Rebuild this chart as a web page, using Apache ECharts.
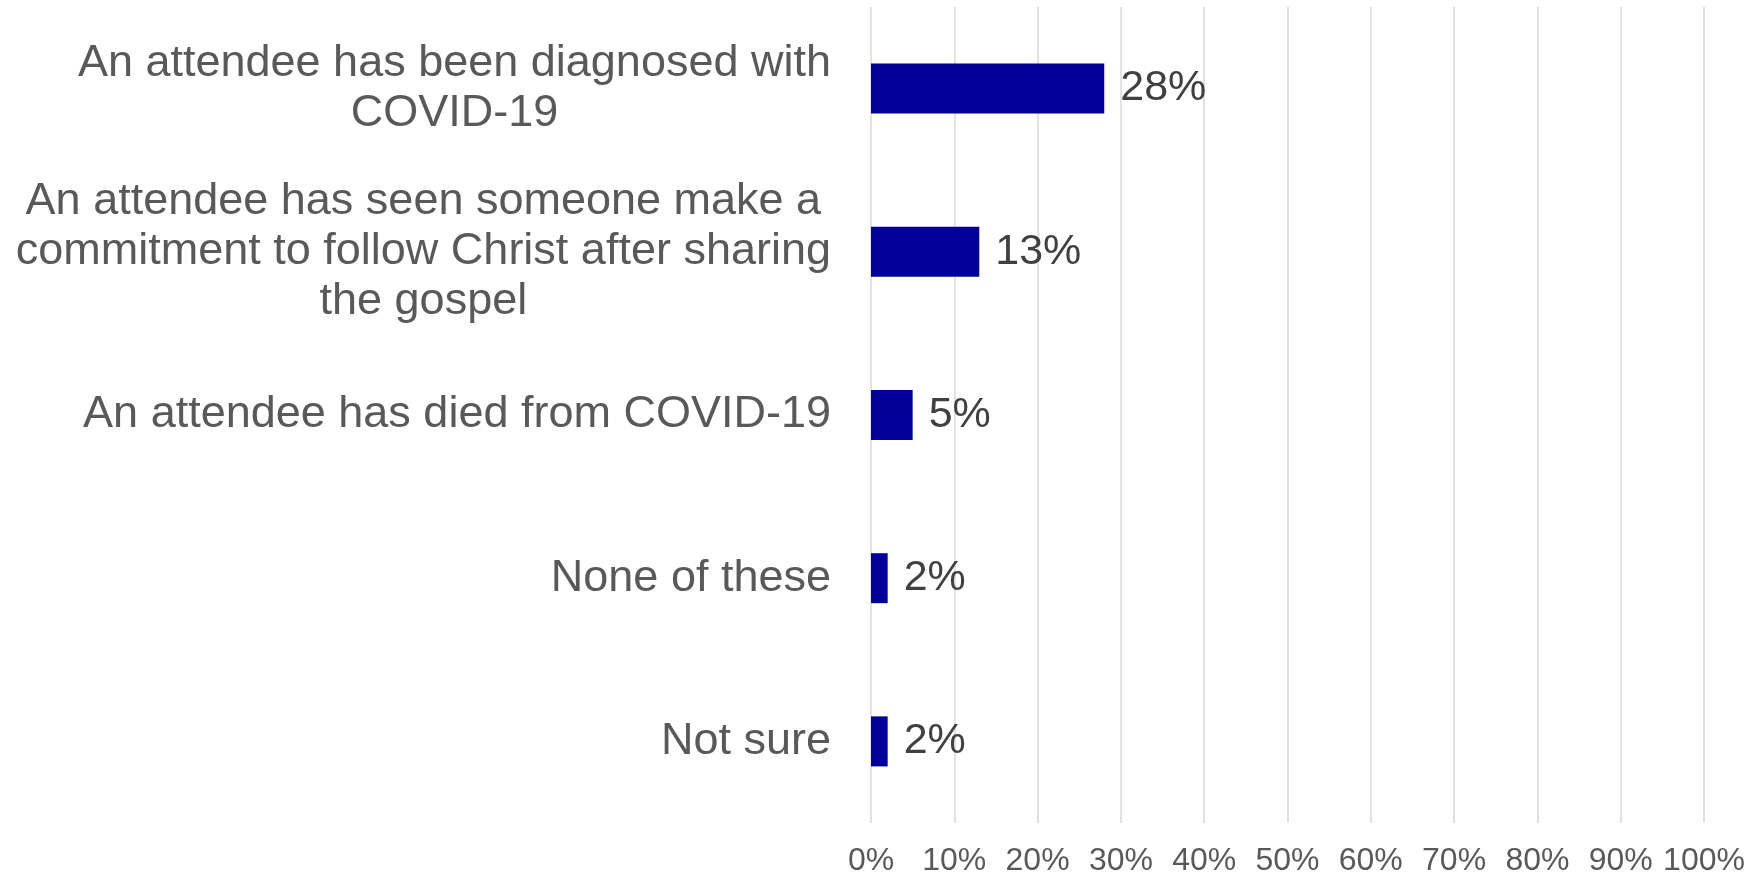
<!DOCTYPE html>
<html>
<head>
<meta charset="utf-8">
<script src="https://cdn.jsdelivr.net/npm/echarts@6/dist/echarts.min.js"></script>
<style>
  html, body { margin: 0; padding: 0; background: #fff; }
  #chart { width: 1758px; height: 874px; }
</style>
</head>
<body>
<div id="chart"></div>
<script>
const categories = [
  'An attendee has been diagnosed with\nCOVID-19',
  'An attendee has seen someone make a\ncommitment to follow Christ after sharing\nthe gospel',
  'An attendee has died from COVID-19',
  'None of these',
  'Not sure',
]
const shares = [28, 13, 5, 2, 2]
const tickValues = [0, 10, 20, 30, 40, 50, 60, 70, 80, 90, 100]

const font = '"Liberation Sans", Arial, sans-serif'
const chart = echarts.init(document.getElementById('chart'))

chart.setOption({
  animation: false,
  backgroundColor: '#fff',
  grid: { left: 871, right: 54, top: 7, bottom: 51, outerBoundsMode: 'none', containLabel: false },
  xAxis: {
    type: 'value',
    min: tickValues[0],
    max: tickValues[tickValues.length - 1],
    interval: 10,
    axisLine: { show: false },
    axisTick: { show: false },
    splitLine: { lineStyle: { color: '#d9d9d9', width: 1.5 } },
    axisLabel: {
      color: '#595959',
      fontFamily: font,
      fontSize: 32,
      margin: 22,
      formatter: (v) => v + '%',
    },
  },
  yAxis: {
    type: 'category',
    inverse: true,
    data: categories,
    axisLine: { show: false },
    axisTick: { show: false },
    axisLabel: {
      margin: 40,
      formatter: (v) => v.split('\n').map((line) => '{c|' + line + '}').join('\n'),
      rich: {
        c: {
          color: '#595959',
          fontFamily: font,
          fontSize: 45,
          lineHeight: 50,
          align: 'center',
        },
      },
    },
  },
  series: [
    {
      type: 'bar',
      data: shares,
      barWidth: 50,
      itemStyle: { color: '#000099' },
      label: {
        show: true,
        position: 'right',
        distance: 16,
        color: '#404040',
        fontFamily: font,
        fontSize: 43,
        formatter: '{c}%',
      },
    },
  ],
})
</script>
</body>
</html>
